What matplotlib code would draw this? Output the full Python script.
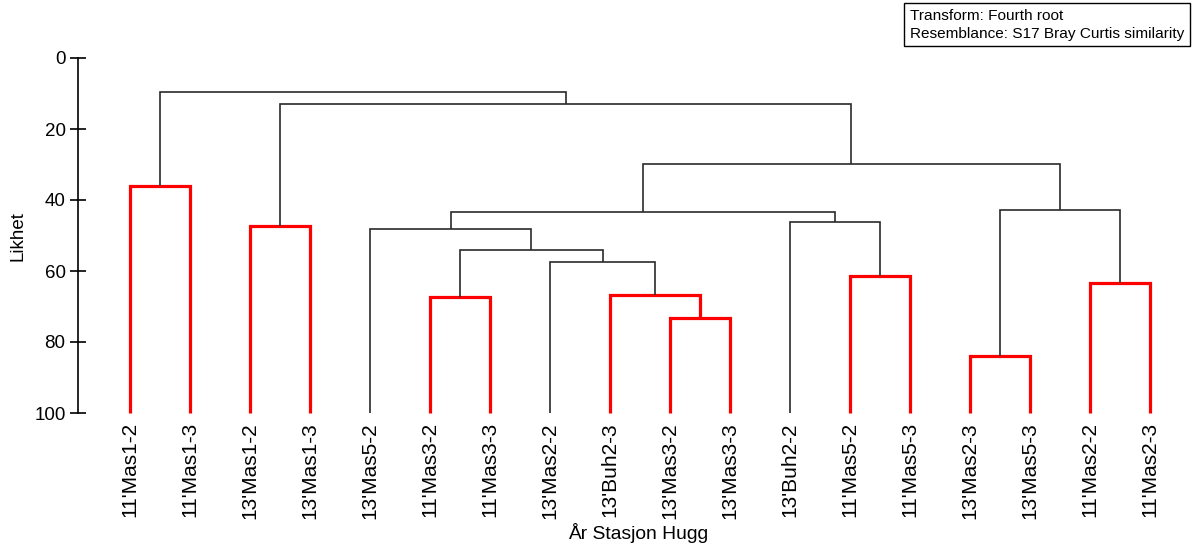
import matplotlib
matplotlib.use("Agg")
import matplotlib.pyplot as plt

plt.rcParams['font.family'] = ['Liberation Sans', 'DejaVu Sans']

labels = ["11'Mas1-2", "11'Mas1-3", "13'Mas1-2", "13'Mas1-3", "13'Mas5-2",
          "11'Mas3-2", "11'Mas3-3", "13'Mas2-2", "13'Buh2-3", "13'Mas3-2",
          "13'Mas3-3", "13'Buh2-2", "11'Mas5-2", "11'Mas5-3", "13'Mas2-3",
          "13'Mas5-3", "11'Mas2-2", "11'Mas2-3"]

# merges: (child a, child b, similarity, significant-group flag)
# indices < 18 are leaves, 18+k is the k-th merge
merge_a = [0, 2, 5, 9, 8, 7, 20, 4, 12, 11, 25, 14, 16, 29, 28, 19, 18]
merge_b = [1, 3, 6, 10, 21, 22, 23, 24, 13, 26, 27, 15, 17, 30, 31, 32, 33]
merge_h = [36.0, 47.3, 67.3, 73.2, 66.8, 57.5, 54.0, 48.2, 61.4, 46.2, 43.4,
           84.0, 63.4, 42.8, 29.9, 13.0, 9.6]
merge_red = [1, 1, 1, 1, 1, 0, 0, 0, 1, 0, 0, 1, 1, 0, 0, 0, 0]

yticks = [0, 20, 40, 60, 80, 100]

W, H = 1198, 551
fig = plt.figure(figsize=(W / 100, H / 100), dpi=100)
ax_left, ax_right, ax_top, ax_bot = 78, 1190, 58, 413
ax = fig.add_axes([ax_left / W, (H - ax_bot) / H, (ax_right - ax_left) / W, (ax_bot - ax_top) / H])

n = len(labels)
leaf_x0, leaf_dx = 130, 60
ax.set_xlim((ax_left - leaf_x0) / leaf_dx, (ax_right - leaf_x0) / leaf_dx)
ax.set_ylim(100, 0)

xpos = {i: float(i) for i in range(n)}
ypos = {i: 100.0 for i in range(n)}
for k, (a, b, h, r) in enumerate(zip(merge_a, merge_b, merge_h, merge_red)):
    col = '#ff0000' if r else '#2a2a2a'
    lw = 2.3 if r else 1.2
    xa, xb = xpos[a], xpos[b]
    ax.plot([xa, xa, xb, xb], [ypos[a], h, h, ypos[b]], color=col, lw=lw,
            solid_joinstyle='miter', solid_capstyle='butt', clip_on=False)
    xpos[n + k] = (xa + xb) / 2
    ypos[n + k] = h

for s in ['top', 'right', 'bottom']:
    ax.spines[s].set_visible(False)
ax.spines['left'].set_bounds(0, 100)
ax.spines['left'].set_linewidth(1.2)

ax.set_yticks(yticks)
ax.set_yticklabels([str(t) for t in yticks], fontsize=13.5)
ax.tick_params(axis='y', direction='inout', length=12, width=1.2, pad=3)

ax.set_xticks(range(n))
ax.set_xticklabels(labels, rotation=90, fontsize=15, va='top', ha='center')
ax.tick_params(axis='x', length=0, pad=6.5)

ax.set_ylabel('Likhet', fontsize=13.5)
ax.yaxis.set_label_coords(-(78 - 27) / (ax_right - ax_left), 1 - (236 - ax_top) / (ax_bot - ax_top))
fig.text(638 / W, 1 - 533 / H, 'År Stasjon Hugg', fontsize=13.9, ha='center', va='center')

fig.text(910 / W, 1 - 9 / H, 'Transform: Fourth root\nResemblance: S17 Bray Curtis similarity',
         fontsize=11.1, ha='left', va='top', linespacing=1.35,
         bbox=dict(boxstyle='square,pad=0.36', fc='white', ec='black', lw=1.0))

fig.savefig('out.png', dpi=100)
